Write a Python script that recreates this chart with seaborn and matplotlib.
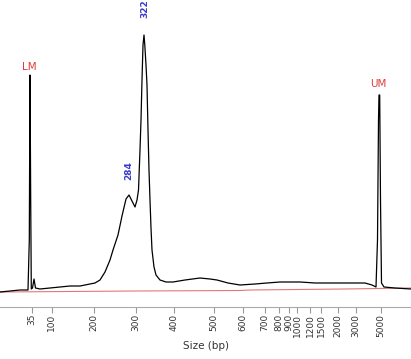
import numpy as np
import pandas as pd
import seaborn as sns
import matplotlib.pyplot as plt

# ladder calibration: size (bp) -> migration position
ladder_bp = ["35", "100", "200", "300", "400", "500", "600", "700", "800",
             "900", "1000", "1200", "1500", "2000", "3000", "5000"]
ladder_pos = [31.5, 51.5, 94, 136, 174, 214, 243, 265, 279,
              289, 297, 310, 321, 338, 356, 381]

# electropherogram trace (migration position, fluorescence)
trace_pos = [0, 10, 20, 28, 29.3, 30, 30.7, 31.3, 32.5, 34, 35.5, 40, 50, 60,
             70, 80, 90, 95, 100, 105, 110, 113, 118, 122, 126, 129, 132, 135,
             137, 138.5, 140, 141, 142, 143, 144, 144.8, 146, 147, 148, 149, 150,
             151, 152, 154, 156, 160, 166, 173, 185, 200, 210, 217, 228, 240,
             255, 267, 280, 300, 315, 330, 350, 365, 372, 376, 377.5, 378.5,
             379, 379.7, 380.5, 381.5, 384, 395, 411]
trace_fu = [15, 16, 17, 17, 67, 232, 107, 18, 19, 28, 19, 18, 19, 20,
            21, 21, 23, 24, 27, 35, 47, 57, 72, 91, 108, 112, 106, 100,
            107, 117, 157, 187, 227, 262, 272, 262, 242, 222, 177, 137, 107,
            79, 57, 40, 32, 27, 25, 25, 27, 29, 28, 27, 24, 22,
            23, 24, 25, 25, 24, 24, 24, 24, 22, 20, 67, 187,
            212, 212, 107, 24, 20, 19, 18]

# baseline fit
base_pos = [0, 135, 240, 250, 345, 411]
base_fu = [15, 16, 16.5, 17, 18, 19]

# peak annotations
peak_labels = ["LM", "284", "322", "UM"]
peak_pos = [29.5, 129, 145, 378.5]
peak_fu = [240, 127, 289, 223]
peak_colors = ["#e03a3a", "#3a3acc", "#3a3acc", "#e03a3a"]

sns.set_style("white")
plt.rcParams['font.family'] = ['DejaVu Sans']

fig = plt.figure(figsize=(4.11, 3.59), dpi=100)
ax = fig.add_axes([0, 52 / 359, 1, 307 / 359])

trace = pd.DataFrame({"pos": trace_pos, "fu": trace_fu})
base = pd.DataFrame({"pos": base_pos, "fu": base_fu})
sns.lineplot(data=base, x="pos", y="fu", color="#e07878", lw=0.8, ax=ax)
sns.lineplot(data=trace, x="pos", y="fu", color="black", lw=0.9, ax=ax)

for lab, x, y, c in zip(peak_labels, peak_pos, peak_fu, peak_colors):
    if lab in ("LM", "UM"):
        ax.text(x, y, lab, color=c, fontsize=7.5, ha="center", va="center")
    else:
        ax.text(x, y, lab, color=c, fontsize=6.5, fontweight="bold",
                rotation=90, ha="center", va="bottom")

ax.set_xlim(0, 411)
ax.set_ylim(0, 307)
ax.set_xticks(ladder_pos)
ax.set_xticklabels(ladder_bp, rotation=90, fontsize=6.5, color="#333333")
ax.set_yticks([])
ax.tick_params(axis="x", length=4, width=0.8, color="#999999", pad=1,
               direction="out", bottom=True)
for side in ("left", "right", "top"):
    ax.spines[side].set_visible(False)
ax.spines["bottom"].set_color("#aaaaaa")
ax.spines["bottom"].set_linewidth(0.8)
ax.set_xlabel("Size (bp)", fontsize=7.5, color="#333333", labelpad=3)
ax.set_ylabel("")

fig.savefig("out.png", dpi=100)
